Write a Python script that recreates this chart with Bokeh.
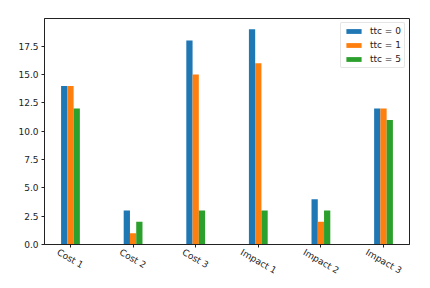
import math
from bokeh.plotting import figure
from bokeh.models import (ColumnDataSource, FixedTicker, PrintfTickFormatter, Range1d,
                          Legend, LegendItem, LinearAxis, CustomJSTickFormatter)
from bokeh.embed import file_html
from bokeh.resources import INLINE

categories = ["Cost 1", "Cost 2", "Cost 3", "Impact 1", "Impact 2", "Impact 3"]
ttc0 = [14, 3, 18, 19, 4, 12]
ttc1 = [14, 1, 15, 16, 2, 12]
ttc5 = [12, 2, 3, 3, 3, 11]
series_labels = ["ttc = 0", "ttc = 1", "ttc = 5"]
colors = ["#1f77b4", "#ff7f0e", "#2ca02c"]
y_ticks = [0, 2.5, 5, 7.5, 10, 12.5, 15, 17.5]

bar_w = 0.1
idx = list(range(len(categories)))
x_lo, x_hi = -0.415, len(categories) - 1 + 0.415
frame_w, frame_h = 365, 226

p = figure(width=422, height=280, output_backend="svg", toolbar_location=None,
           x_range=Range1d(x_lo, x_hi),
           y_range=Range1d(0, 19.95),
           min_border_left=44, min_border_right=13, min_border_top=18, min_border_bottom=36)
p.frame_width = frame_w
p.frame_height = frame_h

renderers = []
for k, (vals, col) in enumerate(zip([ttc0, ttc1, ttc5], colors)):
    off = (k - 1) * bar_w
    src = ColumnDataSource(dict(x=[i + off for i in idx], top=vals))
    r = p.vbar(x="x", top="top", width=bar_w, bottom=0, source=src,
               fill_color=col, line_color=None)
    renderers.append(r)

legend = Legend(items=[LegendItem(label=l, renderers=[r]) for l, r in zip(series_labels, renderers)],
                location="top_right")
legend.label_text_font = "DejaVu Sans"
legend.label_text_font_size = "9px"
legend.label_text_color = "#222222"
legend.glyph_width = 19
legend.glyph_height = 6
legend.label_height = 10
legend.label_standoff = 7
legend.spacing = 4
legend.padding = 3
legend.margin = 4
legend.border_line_color = "#cccccc"
legend.border_line_width = 1
legend.background_fill_alpha = 0.8
legend.border_radius = 2
p.add_layout(legend)

p.xgrid.visible = False
p.ygrid.visible = False
p.outline_line_color = "#222222"
p.outline_line_width = 1
p.outline_line_alpha = 1

for ax in [p.xaxis[0], p.yaxis[0]]:
    ax.axis_line_color = "#222222"
    ax.major_tick_line_color = "#222222"
    ax.major_tick_out = 3
    ax.major_tick_in = 0
    ax.minor_tick_line_color = None
    ax.major_label_text_font = "DejaVu Sans"
    ax.major_label_text_font_size = "9px"
    ax.major_label_text_color = "#222222"
    ax.major_label_standoff = 3

p.yaxis[0].ticker = FixedTicker(ticks=y_ticks)
p.yaxis[0].formatter = PrintfTickFormatter(format="%.1f")

# axis carrying the tick marks
xa = p.xaxis[0]
xa.ticker = FixedTicker(ticks=idx)
xa.major_label_overrides = {i: "" for i in idx}
xa.major_label_text_font_size = "1px"
xa.major_label_standoff = 0

# axis carrying the rotated labels; anchors shifted so each label is centred on its tick
ang = math.pi / 6
px_per_unit = frame_w / (x_hi - x_lo)
char_w = 4.9
label_pos = [i - math.cos(ang) * 0.5 * len(c) * char_w / px_per_unit for i, c in zip(idx, categories)]
lab_ax = LinearAxis(ticker=FixedTicker(ticks=label_pos),
                    formatter=CustomJSTickFormatter(args=dict(names=categories),
                                                    code="return names[index]"))
lab_ax.axis_line_color = None
lab_ax.major_tick_line_color = None
lab_ax.minor_tick_line_color = None
lab_ax.major_tick_out = 0
lab_ax.major_tick_in = 0
lab_ax.major_label_orientation = -ang
lab_ax.major_label_text_font = "DejaVu Sans"
lab_ax.major_label_text_font_size = "9px"
lab_ax.major_label_text_color = "#222222"
lab_ax.major_label_standoff = 4
p.add_layout(lab_ax, "below")

open("out.html", "w").write(file_html(p, INLINE))
